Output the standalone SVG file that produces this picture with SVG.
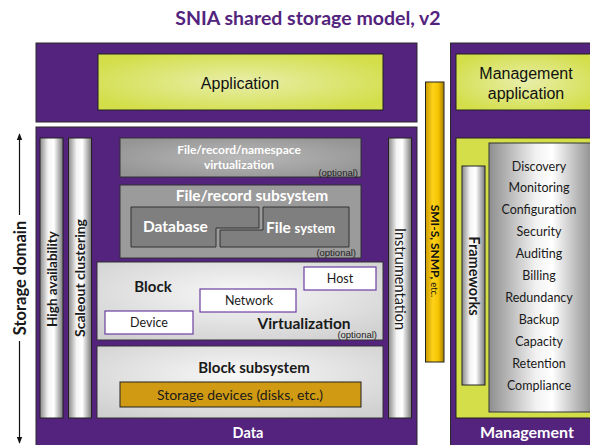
<svg xmlns="http://www.w3.org/2000/svg" width="590" height="445" viewBox="0 0 590 445">
<defs>
<linearGradient id="bar" x1="0" y1="0" x2="1" y2="0">
<stop offset="0" stop-color="#8a8a8a"/><stop offset="0.35" stop-color="#f4f4f4"/><stop offset="0.6" stop-color="#ffffff"/><stop offset="1" stop-color="#7a7a7a"/>
</linearGradient>
<linearGradient id="list" x1="0" y1="0" x2="1" y2="0">
<stop offset="0" stop-color="#8e8e8e"/><stop offset="0.45" stop-color="#f2f2f2"/><stop offset="0.6" stop-color="#ffffff"/><stop offset="1" stop-color="#8a8a8a"/>
</linearGradient>
<linearGradient id="gold" x1="0" y1="0" x2="1" y2="0">
<stop offset="0" stop-color="#c99a00"/><stop offset="0.4" stop-color="#ffd21a"/><stop offset="0.7" stop-color="#f5c400"/><stop offset="1" stop-color="#a87e00"/>
</linearGradient>
<radialGradient id="app" cx="0.5" cy="0.5" r="0.6">
<stop offset="0" stop-color="#e8eeaa"/><stop offset="1" stop-color="#d3de48"/>
</radialGradient>
<radialGradient id="g1" cx="0.5" cy="0.5" r="0.6">
<stop offset="0" stop-color="#b8b8b8"/><stop offset="1" stop-color="#959595"/>
</radialGradient>
<radialGradient id="g2" cx="0.5" cy="0.4" r="0.7">
<stop offset="0" stop-color="#f8f8f8"/><stop offset="1" stop-color="#d0d0d0"/>
</radialGradient>
<marker id="ah" viewBox="0 0 10 10" refX="9" refY="5" markerWidth="6" markerHeight="6" orient="auto">
<path d="M0,1 L10,5 L0,9 z" fill="#111"/>
</marker>
<style>
.purple{fill:#53237e;stroke:#2a2a2a;stroke-width:1}
.bar{fill:url(#bar);stroke:#222;stroke-width:1}
.box{stroke:#333;stroke-width:1}
.wt{fill:#fff;font-family:Lato,"Liberation Sans",sans-serif;font-weight:bold}
.bt{fill:#1a1a1a;font-family:Lato,"Liberation Sans",sans-serif;font-weight:bold}
.rt{fill:#1a1a1a;font-family:Lato,"Liberation Sans",sans-serif}
.at{fill:#111;font-family:"Liberation Sans",Arial,sans-serif}
.opt{fill:#222;font-family:"Liberation Sans",Arial,sans-serif;font-size:9.5px}
.wbox{fill:#fff;stroke:#6b3fa0;stroke-width:1.2}
</style>
</defs>
<rect width="590" height="445" fill="#fff"/>
<text x="308" y="25" text-anchor="middle" font-family="Lato,'Liberation Sans',sans-serif" font-weight="bold" font-size="19.5" fill="#53237e">SNIA shared storage model, v2</text>

<g id="app-layer">
<rect class="purple" x="36" y="43" width="381" height="79"/>
<rect x="98" y="54" width="285" height="56" fill="url(#app)" stroke="#222"/>
<text class="at" x="240" y="89" text-anchor="middle" font-size="16">Application</text>
</g>

<g id="mgmt-column">
<rect class="purple" x="450.5" y="43" width="145" height="410"/>
<rect x="456" y="54" width="140" height="56" fill="url(#app)" stroke="#222"/>
<text class="at" x="526" y="79" text-anchor="middle" font-size="16">Management</text>
<text class="at" x="526" y="99" text-anchor="middle" font-size="16">application</text>
<rect x="456" y="138" width="140" height="280" fill="#d3de48" stroke="#222"/>
<text class="wt" x="527" y="438" text-anchor="middle" font-size="16">Management</text>
</g>

<g id="frameworks">
<rect class="bar" x="462" y="166" width="23" height="219"/>
<text class="bt" transform="translate(468.5,276) rotate(90)" text-anchor="middle" font-size="14.5">Frameworks</text>
</g>

<g id="services">
<rect x="489" y="143" width="105" height="269" fill="url(#list)" stroke="#333"/>
<g class="rt" font-size="12.5" text-anchor="middle">
<text x="539" y="171">Discovery</text>
<text x="539" y="192">Monitoring</text>
<text x="539" y="214">Configuration</text>
<text x="539" y="236">Security</text>
<text x="539" y="258">Auditing</text>
<text x="539" y="280">Billing</text>
<text x="539" y="302">Redundancy</text>
<text x="539" y="324">Backup</text>
<text x="539" y="346">Capacity</text>
<text x="539" y="368">Retention</text>
<text x="539" y="390">Compliance</text>
</g>
</g>

<g id="smis">
<rect x="425.5" y="82" width="18.5" height="280" fill="url(#gold)" stroke="#222"/>
<text transform="translate(430.5,251) rotate(90)" text-anchor="middle" font-family="Lato,'Liberation Sans',sans-serif" font-weight="bold" font-size="12" fill="#111">SMI-S, SNMP, <tspan font-size="9.5" font-weight="normal">etc.</tspan></text>
</g>

<g id="storage-domain">
<rect class="purple" x="36" y="127" width="381" height="330"/>
<text class="wt" x="248" y="438" text-anchor="middle" font-size="14.5">Data</text>
</g>

<g id="high-availability">
<rect class="bar" x="40" y="138" width="23" height="280"/>
<text class="bt" transform="translate(56.5,279) rotate(-90)" text-anchor="middle" font-size="13.5">High availability</text>
</g>
<g id="scaleout">
<rect class="bar" x="68.5" y="138" width="23" height="280"/>
<text class="bt" transform="translate(85,278) rotate(-90)" text-anchor="middle" font-size="14">Scaleout clustering</text>
</g>
<g id="instrumentation">
<rect class="bar" x="388.5" y="138" width="23" height="280"/>
<text class="rt" transform="translate(395,279) rotate(90)" text-anchor="middle" font-size="14.5">Instrumentation</text>
</g>

<g id="namespace-virt">
<rect class="box" x="120" y="138" width="241" height="39" fill="url(#g1)"/>
<text class="wt" x="239" y="154" text-anchor="middle" font-size="12">File/record/namespace</text>
<text class="wt" x="239" y="168.5" text-anchor="middle" font-size="12">virtualization</text>
<text class="opt" x="358" y="176" text-anchor="end">(optional)</text>
</g>

<g id="file-subsystem">
<rect class="box" x="120" y="185" width="241" height="73" fill="#9b9b9b"/>
<text class="wt" x="252" y="201" text-anchor="middle" font-size="15.5">File/record subsystem</text>
<text class="opt" x="356" y="256" text-anchor="end">(optional)</text>
</g>
<g id="database">
<path class="box" d="M131,207 H259 V228 H216 V247 H131 Z" fill="#7f7f7f"/>
<text class="wt" x="143" y="232" font-size="15.5">Database</text>
</g>
<g id="file-system">
<path class="box" d="M263,207 H349 V247 H220 V230 H263 Z" fill="#7f7f7f"/>
<text class="wt" x="266" y="233" font-size="15.5">File <tspan font-size="13">system</tspan></text>
</g>

<g id="block-virt">
<rect class="box" x="97" y="262" width="286" height="78" fill="url(#g2)"/>
<text class="bt" x="153" y="292" text-anchor="middle" font-size="15">Block</text>
<text class="bt" x="304" y="329" text-anchor="middle" font-size="15.5">Virtualization</text>
<text class="opt" x="377" y="338" text-anchor="end">(optional)</text>
</g>
<g id="host">
<rect class="wbox" x="304" y="267" width="72" height="23"/>
<text class="rt" x="340" y="283" text-anchor="middle" font-size="12.5">Host</text>
</g>
<g id="network">
<rect class="wbox" x="200" y="289" width="96" height="23"/>
<text class="rt" x="249" y="305" text-anchor="middle" font-size="12.5">Network</text>
</g>
<g id="device">
<rect class="wbox" x="105" y="311" width="88" height="23"/>
<text class="rt" x="149" y="327" text-anchor="middle" font-size="12.5">Device</text>
</g>

<g id="block-subsystem">
<rect class="box" x="97" y="346" width="286" height="72" fill="url(#g2)"/>
<text class="bt" x="254" y="373" text-anchor="middle" font-size="15">Block subsystem</text>
</g>
<g id="storage-devices">
<rect x="120" y="382" width="241" height="25" fill="#d09a12" stroke="#222"/>
<text class="rt" x="240" y="400" text-anchor="middle" font-size="14">Storage devices (disks, etc.)</text>
</g>

<g id="connectors">
<line x1="19.5" y1="215" x2="19.5" y2="134" stroke="#111" stroke-width="1.2" marker-end="url(#ah)"/>
<line x1="19.5" y1="341" x2="19.5" y2="443" stroke="#111" stroke-width="1.2" marker-end="url(#ah)"/>
</g>
<text class="bt" transform="translate(25.5,278) rotate(-90)" text-anchor="middle" font-size="16.5">Storage domain</text>
</svg>
